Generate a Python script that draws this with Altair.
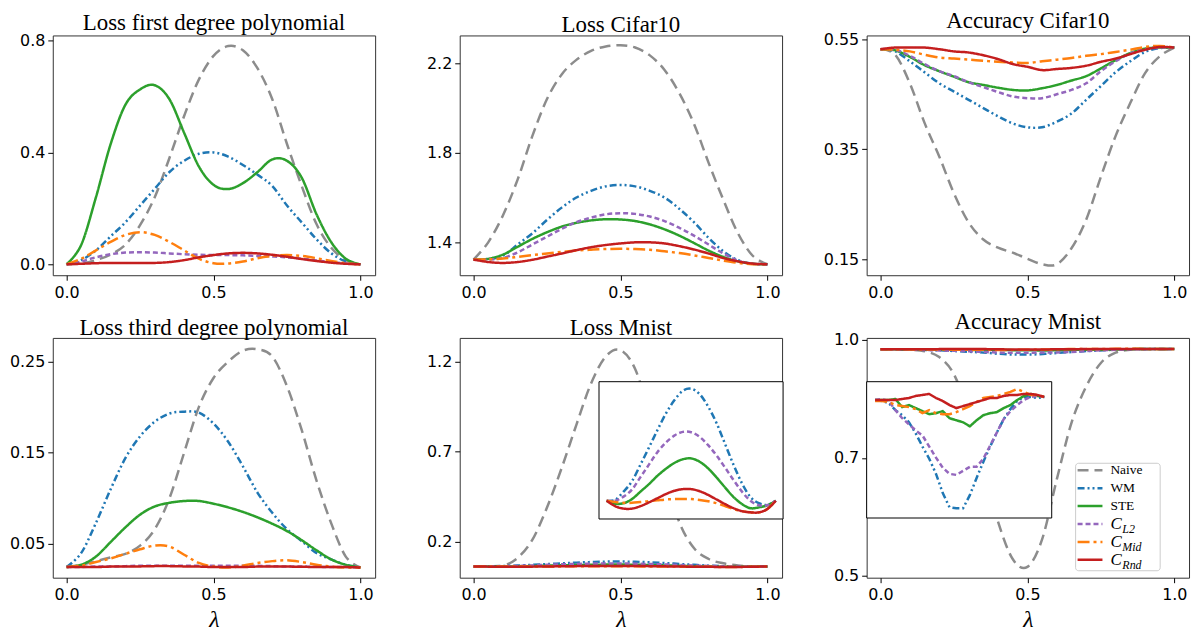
import altair as alt
import pandas as pd

# ---------------- data ----------------
LAM21 = [round(0.05 * i, 2) for i in range(21)]
LAM26 = [round(0.04 * i, 2) for i in range(26)]

SERIES = ["Naive", "WM", "STE", "C_L2", "C_Mid", "C_Rnd"]
COLORS = ["#8c8c8c", "#1f77b4", "#2ca02c", "#9467bd", "#ff7f0e", "#c41e1e"]
DASHES = [[11, 6], [7, 3, 2, 3, 2, 3], [1, 0], [5, 3], [12, 4, 3, 4], [1, 0]]
LEGEND_MAIN = ["Naive", "WM", "STE", "C", "C", "C"]
LEGEND_SUB = ["", "", "", "L2", "Mid", "Rnd"]

# Loss first degree polynomial
p1_naive = [0.0, 0.003, 0.015, 0.035, 0.07, 0.14, 0.24, 0.38, 0.53, 0.66, 0.745, 0.78, 0.765, 0.70, 0.59, 0.43, 0.28, 0.145, 0.06, 0.015, 0.0]
p1_wm = [0.0, 0.015, 0.05, 0.10, 0.15, 0.21, 0.27, 0.33, 0.37, 0.395, 0.40, 0.385, 0.355, 0.32, 0.28, 0.21, 0.15, 0.09, 0.04, 0.01, 0.0]
p1_ste = [0.0, 0.07, 0.24, 0.43, 0.57, 0.625, 0.64, 0.59, 0.47, 0.35, 0.284, 0.269, 0.29, 0.33, 0.375, 0.37, 0.31, 0.18, 0.08, 0.02, 0.0]
p1_l2 = [0.0, 0.01, 0.025, 0.036, 0.042, 0.043, 0.042, 0.039, 0.036, 0.034, 0.033, 0.033, 0.032, 0.03, 0.028, 0.025, 0.02, 0.014, 0.008, 0.003, 0.0]
p1_mid = [0.0, 0.02, 0.05, 0.08, 0.105, 0.115, 0.105, 0.08, 0.05, 0.02, 0.004, 0.003, 0.01, 0.022, 0.03, 0.033, 0.03, 0.022, 0.012, 0.004, 0.0]
p1_rnd = [0.0, 0.002, 0.004, 0.005, 0.005, 0.005, 0.005, 0.008, 0.015, 0.025, 0.033, 0.039, 0.041, 0.039, 0.034, 0.027, 0.019, 0.012, 0.006, 0.002, 0.0]

# Loss Cifar10
p2_naive = [1.323, 1.40, 1.52, 1.68, 1.874, 2.04, 2.15, 2.215, 2.255, 2.275, 2.28, 2.27, 2.235, 2.17, 2.067, 1.93, 1.755, 1.59, 1.44, 1.34, 1.302]
p2_wm = [1.323, 1.325, 1.34, 1.39, 1.44, 1.50, 1.555, 1.60, 1.63, 1.65, 1.656, 1.65, 1.63, 1.60, 1.55, 1.49, 1.42, 1.36, 1.32, 1.305, 1.302]
p2_ste = [1.323, 1.326, 1.345, 1.38, 1.415, 1.445, 1.47, 1.487, 1.498, 1.503, 1.502, 1.495, 1.48, 1.458, 1.43, 1.397, 1.363, 1.335, 1.315, 1.304, 1.302]
p2_l2 = [1.323, 1.323, 1.33, 1.355, 1.39, 1.425, 1.46, 1.49, 1.51, 1.525, 1.53, 1.527, 1.515, 1.495, 1.465, 1.43, 1.39, 1.35, 1.318, 1.304, 1.302]
p2_mid = [1.323, 1.324, 1.328, 1.335, 1.343, 1.35, 1.357, 1.363, 1.367, 1.37, 1.371, 1.37, 1.367, 1.36, 1.352, 1.342, 1.33, 1.318, 1.308, 1.302, 1.302]
p2_rnd = [1.323, 1.312, 1.308, 1.312, 1.322, 1.336, 1.35, 1.365, 1.378, 1.388, 1.395, 1.40, 1.40, 1.395, 1.383, 1.368, 1.35, 1.33, 1.315, 1.305, 1.302]

# Accuracy Cifar10
p3_naive = [0.532, 0.522, 0.47, 0.398, 0.337, 0.27, 0.217, 0.186, 0.171, 0.162, 0.151, 0.141, 0.141, 0.17, 0.222, 0.30, 0.374, 0.434, 0.488, 0.519, 0.535]
p3_wm = [0.532, 0.528, 0.51, 0.49, 0.47, 0.455, 0.44, 0.425, 0.41, 0.397, 0.39, 0.39, 0.40, 0.415, 0.44, 0.465, 0.49, 0.51, 0.527, 0.534, 0.535]
p3_ste = [0.532, 0.53, 0.518, 0.503, 0.492, 0.482, 0.472, 0.467, 0.462, 0.458, 0.457, 0.461, 0.467, 0.475, 0.483, 0.497, 0.512, 0.525, 0.533, 0.535, 0.535]
p3_l2 = [0.532, 0.531, 0.52, 0.505, 0.492, 0.483, 0.472, 0.463, 0.454, 0.446, 0.443, 0.443, 0.45, 0.458, 0.47, 0.492, 0.51, 0.524, 0.532, 0.535, 0.535]
p3_mid = [0.532, 0.531, 0.528, 0.522, 0.517, 0.515, 0.513, 0.511, 0.509, 0.508, 0.507, 0.51, 0.513, 0.516, 0.52, 0.523, 0.527, 0.531, 0.536, 0.538, 0.535]
p3_rnd = [0.532, 0.535, 0.535, 0.535, 0.532, 0.528, 0.526, 0.521, 0.514, 0.505, 0.5, 0.494, 0.496, 0.498, 0.502, 0.509, 0.515, 0.523, 0.531, 0.536, 0.535]

# Loss third degree polynomial
p4_naive = [0.0245, 0.027, 0.031, 0.035, 0.039, 0.048, 0.066, 0.10, 0.15, 0.20, 0.232, 0.25, 0.262, 0.2635, 0.2555, 0.223, 0.175, 0.12, 0.073, 0.036, 0.024]
p4_wm = [0.0245, 0.04, 0.073, 0.11, 0.144, 0.168, 0.184, 0.193, 0.195, 0.194, 0.182, 0.162, 0.135, 0.106, 0.084, 0.066, 0.053, 0.04, 0.033, 0.027, 0.024]
p4_ste = [0.0245, 0.027, 0.036, 0.052, 0.068, 0.082, 0.091, 0.095, 0.097, 0.097, 0.094, 0.09, 0.085, 0.079, 0.072, 0.064, 0.054, 0.043, 0.033, 0.027, 0.024]
p4_l2 = [0.0245, 0.0245, 0.025, 0.025, 0.0255, 0.026, 0.026, 0.026, 0.026, 0.026, 0.026, 0.026, 0.026, 0.0258, 0.0255, 0.025, 0.025, 0.0248, 0.0245, 0.0245, 0.024]
p4_mid = [0.0245, 0.026, 0.03, 0.034, 0.039, 0.044, 0.048, 0.047, 0.038, 0.029, 0.025, 0.024, 0.026, 0.029, 0.031, 0.032, 0.03, 0.027, 0.025, 0.024, 0.024]
p4_rnd = [0.0245, 0.0245, 0.0245, 0.025, 0.025, 0.0252, 0.0255, 0.0255, 0.0252, 0.025, 0.0245, 0.0245, 0.0245, 0.025, 0.025, 0.025, 0.0248, 0.0245, 0.0245, 0.0245, 0.024]

# Loss Mnist
p5_naive = [0.062, 0.062, 0.066, 0.11, 0.21, 0.39, 0.61, 0.85, 1.08, 1.23, 1.265, 1.16, 0.90, 0.58, 0.31, 0.165, 0.104, 0.08, 0.068, 0.063, 0.062]
p5_wm = [0.0628, 0.063, 0.065, 0.0675, 0.0715, 0.0756, 0.0798, 0.0838, 0.087, 0.0893, 0.0898, 0.0885, 0.0855, 0.0815, 0.0765, 0.0715, 0.067, 0.0637, 0.0622, 0.0618, 0.0628]
p5_ste = [0.0628, 0.0621, 0.0622, 0.0632, 0.065, 0.0668, 0.0688, 0.0705, 0.0719, 0.0728, 0.073, 0.0722, 0.0706, 0.0684, 0.066, 0.0637, 0.062, 0.061, 0.0612, 0.0617, 0.0628]
p5_l2 = [0.0628, 0.0628, 0.0638, 0.0655, 0.0685, 0.0715, 0.0745, 0.0768, 0.0785, 0.0794, 0.0793, 0.0782, 0.0762, 0.0737, 0.0708, 0.0678, 0.065, 0.0628, 0.0617, 0.0617, 0.0628]
p5_mid = [0.0628, 0.0625, 0.0623, 0.0623, 0.0625, 0.0627, 0.0629, 0.0631, 0.0632, 0.0632, 0.0632, 0.063, 0.0627, 0.0622, 0.0615, 0.0608, 0.0603, 0.06, 0.06, 0.0608, 0.0628]
p5_rnd = [0.0628, 0.0615, 0.0609, 0.0609, 0.0615, 0.0624, 0.0634, 0.0644, 0.0652, 0.0656, 0.0656, 0.0651, 0.0642, 0.0631, 0.062, 0.061, 0.0603, 0.06, 0.06, 0.0608, 0.0628]

# Accuracy Mnist (Naive on LAM21, the others on LAM26)
p6_naive = [0.961, 0.961, 0.96, 0.957, 0.945, 0.91, 0.83, 0.72, 0.61, 0.534, 0.518, 0.574, 0.696, 0.811, 0.885, 0.933, 0.954, 0.96, 0.961, 0.961, 0.961]
p6_wm = [0.9610, 0.9609, 0.9607, 0.9600, 0.9595, 0.9588, 0.9577, 0.9564, 0.9552, 0.9537, 0.9518, 0.9504, 0.9503, 0.9503, 0.9516, 0.9533, 0.9549, 0.9564, 0.9578, 0.9591, 0.9601, 0.9609, 0.9613, 0.9613, 0.9612, 0.9613]
p6_ste = [0.9610, 0.9610, 0.9610, 0.9611, 0.9603, 0.9605, 0.9602, 0.9599, 0.9596, 0.9597, 0.9599, 0.9592, 0.9590, 0.9588, 0.9584, 0.9590, 0.9595, 0.9597, 0.9598, 0.9602, 0.9605, 0.9610, 0.9614, 0.9616, 0.9614, 0.9613]
p6_l2 = [0.9610, 0.9611, 0.9609, 0.9600, 0.9592, 0.9586, 0.9580, 0.9575, 0.9564, 0.9553, 0.9543, 0.9537, 0.9536, 0.9540, 0.9544, 0.9544, 0.9552, 0.9565, 0.9578, 0.9591, 0.9599, 0.9605, 0.9610, 0.9613, 0.9614, 0.9613]
p6_mid = [0.9609, 0.9609, 0.9608, 0.9605, 0.9604, 0.9603, 0.9601, 0.9597, 0.9600, 0.9597, 0.9596, 0.9596, 0.9598, 0.9601, 0.9604, 0.9608, 0.9612, 0.9613, 0.9614, 0.9616, 0.9618, 0.9621, 0.9618, 0.9615, 0.9615, 0.9613]
p6_rnd = [0.9610, 0.9610, 0.9610, 0.9610, 0.9611, 0.9612, 0.9614, 0.9615, 0.9616, 0.9612, 0.9609, 0.9605, 0.9602, 0.9604, 0.9606, 0.9608, 0.9610, 0.9612, 0.9612, 0.9614, 0.9615, 0.9615, 0.9616, 0.9616, 0.9615, 0.9613]

# ---------------- helpers ----------------
W, H = 324, 241
XDOM = [-0.047, 1.05]

COLOR = alt.Color("series:N", scale=alt.Scale(domain=SERIES, range=COLORS), legend=None)
DASH = alt.StrokeDash("series:N", scale=alt.Scale(domain=SERIES, range=DASHES), legend=None)


def to_long(pairs):
    rows = []
    for name, lam, vals in pairs:
        for l, v in zip(lam, vals):
            rows.append({"series": name, "lam": l, "val": v})
    return pd.DataFrame(rows)


def six(lam_naive, lam_rest, arrs):
    return to_long([(SERIES[0], lam_naive, arrs[0])] +
                   [(SERIES[i], lam_rest, arrs[i]) for i in range(1, 6)])


def main_lines(df, ydom, yvals, yfmt, xtitle=None, interp="cardinal"):
    xkw = {"title": xtitle if xtitle else None}
    return alt.Chart(df).mark_line(strokeWidth=2.5, interpolate=interp).encode(
        x=alt.X("lam:Q", scale=alt.Scale(domain=XDOM, nice=False, zero=False),
                axis=alt.Axis(values=[0, 0.5, 1], format=".1f"), **xkw),
        y=alt.Y("val:Q", scale=alt.Scale(domain=ydom, nice=False, zero=False),
                axis=alt.Axis(values=yvals, format=yfmt), title=None),
        color=COLOR, strokeDash=DASH,
    )


def inset_lines(df, xdom, ydom, xrange, yrange, interp):
    return alt.Chart(df).mark_line(strokeWidth=2.5, interpolate=interp).encode(
        x=alt.X("lam:Q", scale=alt.Scale(domain=xdom, range=xrange, nice=False, zero=False), axis=None),
        y=alt.Y("val:Q", scale=alt.Scale(domain=ydom, range=yrange, nice=False, zero=False), axis=None),
        color=COLOR, strokeDash=DASH,
    )


def box(x0, x1, y0, y1, stroke="black", radius=0):
    return alt.Chart(pd.DataFrame({"k": [0]})).mark_rect(
        fill="white", stroke=stroke, strokeWidth=1, cornerRadius=radius).encode(
        x=alt.value(x0), x2=alt.value(x1), y=alt.value(y0), y2=alt.value(y1))


def panel(title, layers):
    return alt.layer(*layers).resolve_scale(x="independent", y="independent").properties(
        width=W, height=H,
        title=alt.TitleParams(title, font="Liberation Serif", fontSize=23,
                              fontWeight="normal", color="black", offset=-2))


# ---------------- panels ----------------
d1 = six(LAM21, LAM21, [p1_naive, p1_wm, p1_ste, p1_l2, p1_mid, p1_rnd])
d2 = six(LAM21, LAM21, [p2_naive, p2_wm, p2_ste, p2_l2, p2_mid, p2_rnd])
d3 = six(LAM21, LAM21, [p3_naive, p3_wm, p3_ste, p3_l2, p3_mid, p3_rnd])
d4 = six(LAM21, LAM21, [p4_naive, p4_wm, p4_ste, p4_l2, p4_mid, p4_rnd])
d5 = six(LAM21, LAM21, [p5_naive, p5_wm, p5_ste, p5_l2, p5_mid, p5_rnd])
d5_in = d5[d5["series"] != "Naive"]
d6 = six(LAM21, LAM26, [p6_naive, p6_wm, p6_ste, p6_l2, p6_mid, p6_rnd])
d6_in = d6[d6["series"] != "Naive"]

P1 = panel("Loss first degree polynomial",
           [main_lines(d1, [-0.039, 0.818], [0.0, 0.4, 0.8], ".1f")])
P2 = panel("Loss Cifar10",
           [main_lines(d2, [1.253, 2.324], [1.4, 1.8, 2.2], ".1f")])
P3 = panel("Accuracy Cifar10",
           [main_lines(d3, [0.121, 0.557], [0.15, 0.35, 0.55], ".2f")])
P4 = panel("Loss third degree polynomial",
           [main_lines(d4, [0.0128, 0.276], [0.05, 0.15, 0.25], ".2f", xtitle="λ")])
P5 = panel("Loss Mnist", [
    main_lines(d5, [0.0, 1.333], [0.2, 0.7, 1.2], ".1f", xtitle="λ"),
    box(140, 325, 44, 182),
    inset_lines(d5_in, [-0.045, 1.043], [0.0584, 0.0915], [140, 325], [182, 44], "cardinal"),
])

leg_df = pd.DataFrame({"series": SERIES, "main": LEGEND_MAIN, "sub": LEGEND_SUB,
                       "row": list(range(6))})
leg = alt.Chart(leg_df).transform_calculate(ly="133 + 18*datum.row")
LY = alt.Y("ly:Q", scale=None, axis=None)
leg_samples = leg.mark_rule(strokeWidth=2.5).encode(
    x=alt.value(212), x2=alt.value(237), y=LY, color=COLOR, strokeDash=DASH)
leg_plain = leg.transform_filter("datum.sub == ''").mark_text(
    align="left", baseline="middle", font="Liberation Serif", fontSize=13.5, color="black").encode(
    x=alt.value(245), y=LY, text="main:N")
leg_c = leg.transform_filter("datum.sub != ''").mark_text(
    align="left", baseline="middle", font="Liberation Serif", fontStyle="italic",
    fontSize=17, color="black").encode(x=alt.value(245), y=LY, text="main:N")
leg_sub = leg.transform_filter("datum.sub != ''").mark_text(
    align="left", baseline="middle", font="Liberation Serif", fontStyle="italic",
    fontSize=12, color="black", dy=5).encode(x=alt.value(257), y=LY, text="sub:N")

P6 = panel("Accuracy Mnist", [
    main_lines(d6, [0.496, 0.984], [0.5, 0.74, 0.98], ".1f", xtitle="λ"),
    box(0, 186, 44, 181),
    inset_lines(d6_in, [-0.05, 1.044], [0.94934, 0.96281], [0, 186], [181, 44], "linear"),
    box(210, 295, 126, 234, stroke="#cccccc", radius=3),
    leg_samples, leg_plain, leg_c, leg_sub,
])

chart = alt.concat(P1, P2, P3, P4, P5, P6, columns=3, bounds="flush",
                   spacing={"row": 63, "column": 85}).properties(
    padding={"left": 0, "top": 0, "right": 3, "bottom": 0}
).configure_view(stroke="#333333", strokeWidth=1).configure_axis(
    labelFont="DejaVu Sans", labelFontSize=16, labelColor="black",
    tickColor="black", tickSize=5, tickWidth=1, domain=False, grid=False,
    titleFont="Liberation Serif", titleFontStyle="italic", titleFontWeight="normal",
    titleFontSize=24, titleColor="black",
).configure_axisX(labelPadding=4, titlePadding=5).configure_axisY(labelPadding=3)

chart.save("out.html", embed_options={"renderer": "svg", "actions": False})
